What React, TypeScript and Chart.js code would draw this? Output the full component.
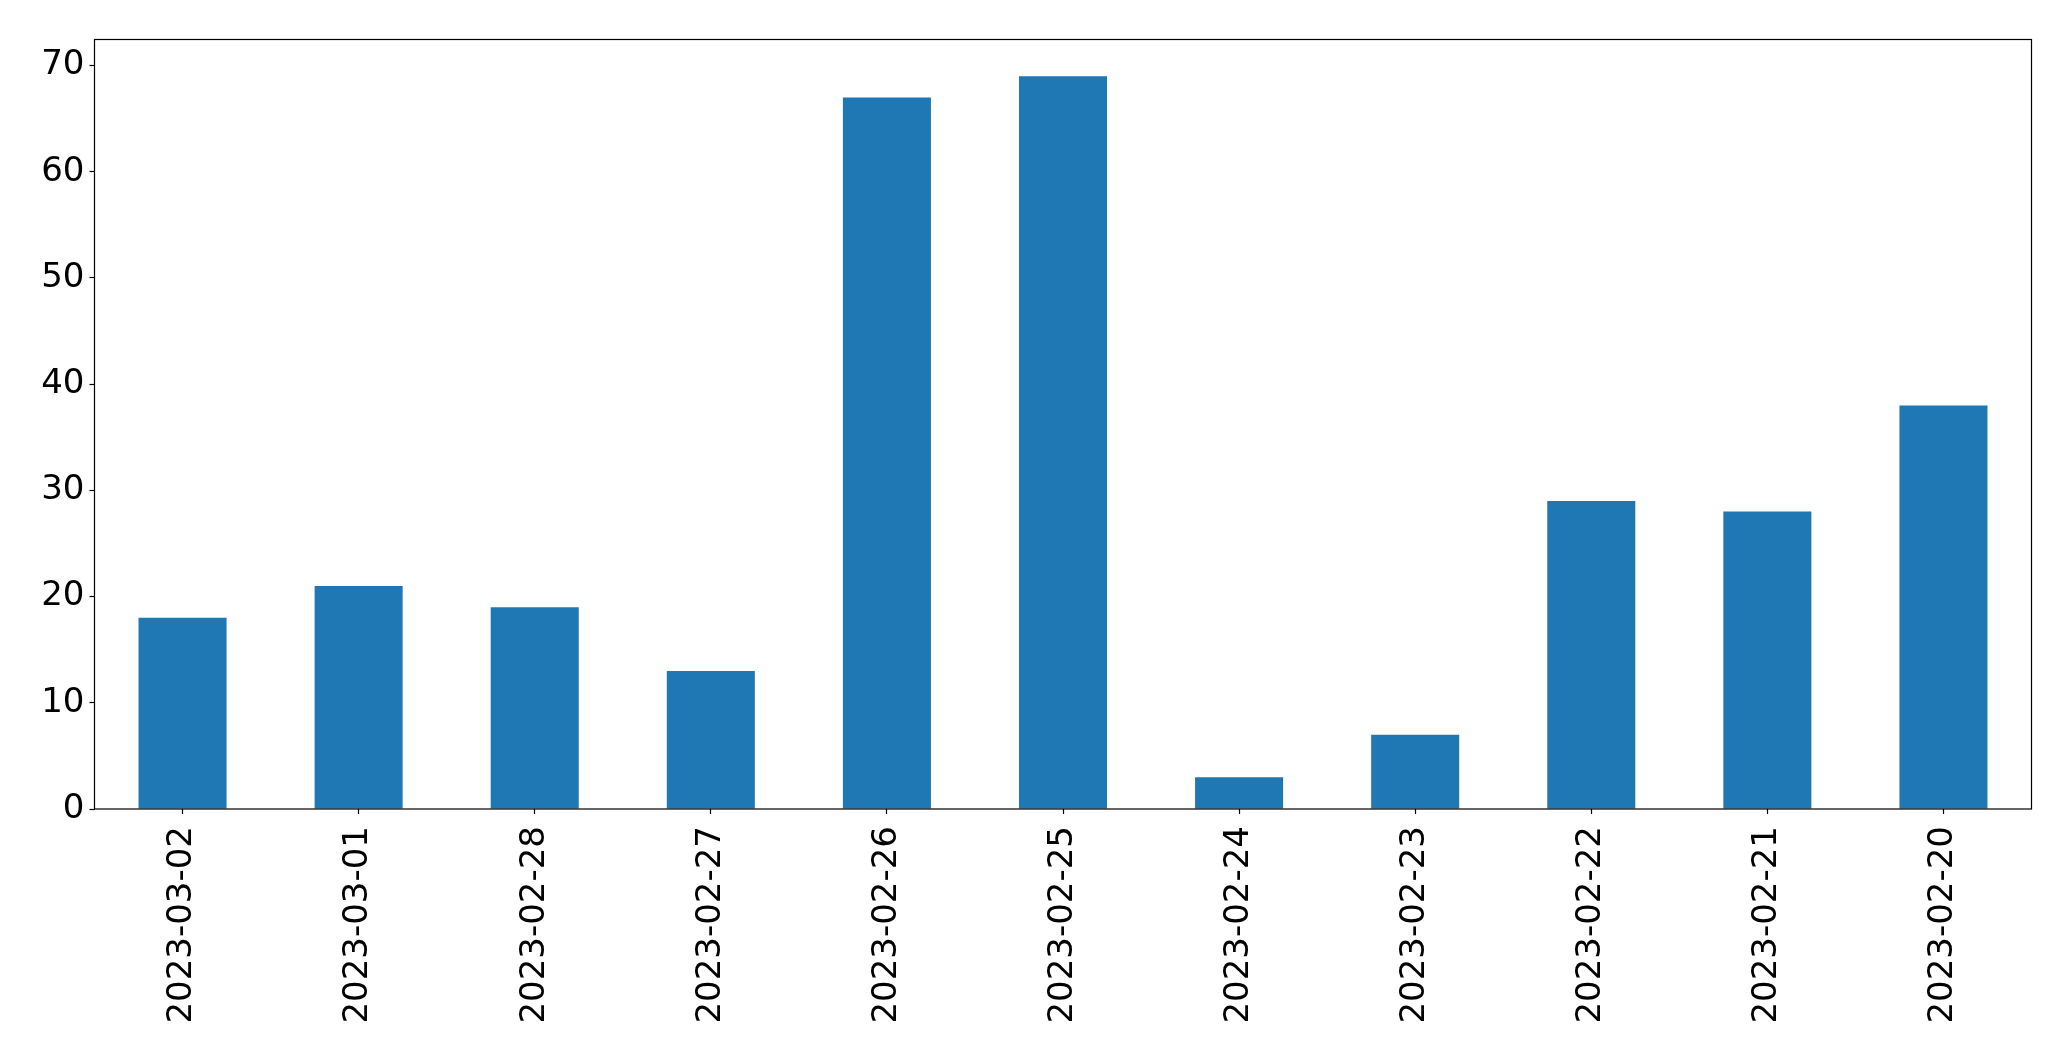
import React, { useEffect, useRef } from "react";
import { Chart, registerables } from "chart.js";

Chart.register(...registerables);

const categories = [
  "2023-03-02", "2023-03-01", "2023-02-28", "2023-02-27", "2023-02-26", "2023-02-25",
  "2023-02-24", "2023-02-23", "2023-02-22", "2023-02-21", "2023-02-20",
];
const values = [18, 21, 19, 13, 67, 69, 3, 7, 29, 28, 38];
const yTicks = [0, 10, 20, 30, 40, 50, 60, 70];
const yMax = 72.45;

const W = 2071;
const H = 1061;
const FONT = "'DejaVu Sans', sans-serif";

const framePlugin = {
  id: "frame",
  afterDraw(chart: any) {
    const { ctx, chartArea } = chart;
    ctx.save();
    ctx.strokeStyle = "#000";
    ctx.lineWidth = 1.2;
    ctx.strokeRect(chartArea.left, chartArea.top, chartArea.right - chartArea.left, chartArea.bottom - chartArea.top);
    ctx.restore();
  },
};

export default function App() {
  const ref = useRef<HTMLCanvasElement>(null);
  useEffect(() => {
    if (!ref.current) return;
    const chart = new Chart(ref.current, {
      type: "bar",
      data: {
        labels: categories,
        datasets: [
          {
            data: values,
            backgroundColor: "#1f77b4",
            borderWidth: 0,
            barPercentage: 0.5,
            categoryPercentage: 1.0,
          },
        ],
      },
      options: {
        animation: false,
        responsive: false,
        devicePixelRatio: 1,
        plugins: { legend: { display: false }, tooltip: { enabled: false } },
        layout: { padding: { left: 0, top: 39.5, right: 39.5, bottom: 0 } },
        scales: {
          x: {
            offset: true,
            border: { display: false },
            grid: {
              display: true,
              drawOnChartArea: false,
              drawTicks: true,
              tickLength: 5,
              tickWidth: 1.2,
              tickColor: "#000",
              offset: false,
            },
            ticks: {
              minRotation: 90,
              maxRotation: 90,
              autoSkip: false,
              padding: 12,
              color: "#000",
              font: { family: FONT, size: 34 },
            },
            afterFit(scale: any) {
              scale.height = H - 809;
            },
          },
          y: {
            min: 0,
            max: yMax,
            border: { display: false },
            grid: {
              display: true,
              drawOnChartArea: false,
              drawTicks: true,
              tickLength: 5,
              tickWidth: 1.2,
              tickColor: "#000",
            },
            ticks: {
              padding: 5,
              color: "#000",
              font: { family: FONT, size: 34 },
            },
            afterBuildTicks(scale: any) {
              scale.ticks = yTicks.map((v) => ({ value: v }));
            },
            afterFit(scale: any) {
              scale.width = 94.5;
            },
          },
        },
      },
      plugins: [framePlugin],
    });
    return () => chart.destroy();
  }, []);
  return (
    <div style={{ position: "fixed", left: 0, top: 0, width: W, height: H, background: "#fff" }}>
      <canvas ref={ref} width={W} height={H} style={{ display: "block" }} />
    </div>
  );
}
